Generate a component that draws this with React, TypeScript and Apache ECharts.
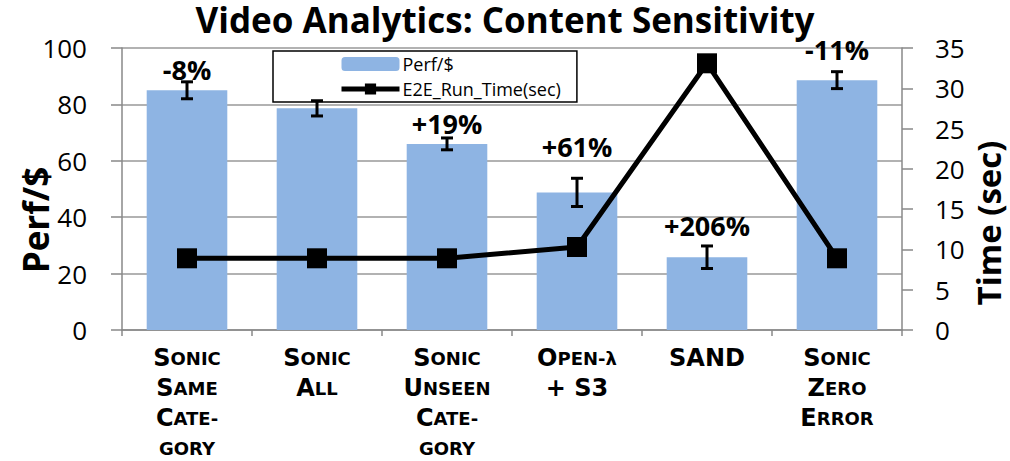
import React, { useEffect, useRef } from "react";
import * as echarts from "echarts";

const categories = [
  "Sonic\nSame\nCate-\ngory",
  "Sonic\nAll",
  "Sonic\nUnseen\nCate-\ngory",
  "Open-λ\n+ S3",
  "SAND",
  "Sonic\nZero\nError",
];
const perfPerDollar = [85, 78.6, 66, 48.8, 25.8, 88.6];
const perfError = [3, 2.7, 2.1, 5, 4, 3];
const changeLabels = ["-8%", "", "+19%", "+61%", "+206%", "-11%"];
// Perf/$ level at which each change label sits
const changeLabelLevel = [92.2, 0, 73.4, 65.2, 37.2, 99.3];
const runTimeSec = [8.9, 8.9, 8.9, 10.3, 33.1, 8.9];

const FONT = "'Open Sans', sans-serif";
const CAPS_FONT = "'DejaVu Sans', sans-serif";

function smallCaps(label: string): string {
  return label
    .split("\n")
    .map((line) => {
      let out = "";
      let cur: string | null = null;
      let buf = "";
      for (const ch of line) {
        let style: string;
        let c = ch;
        if (/[a-z]/.test(ch)) {
          style = "s";
          c = ch.toUpperCase();
        } else if (ch === "-" || ch === "λ") {
          style = "s";
        } else {
          style = "b";
        }
        if (style !== cur) {
          if (buf) out += `{${cur}|${buf}}`;
          buf = "";
          cur = style;
        }
        buf += c;
      }
      if (buf) out += `{${cur}|${buf}}`;
      return out;
    })
    .join("\n");
}

export default function App() {
  const ref = useRef<HTMLDivElement>(null);
  useEffect(() => {
    if (!ref.current) return;
    document.body.style.margin = "0";
    const chart = echarts.init(ref.current, null, { renderer: "svg" });
    const option: any = {
      animation: false,
      backgroundColor: "#fff",
      title: {
        text: "Video Analytics: Content Sensitivity",
        left: "center",
        top: 0,
        padding: 0,
        textStyle: { fontFamily: FONT, fontWeight: "bold", fontSize: 35, lineHeight: 38, color: "#000" },
      },
      legend: {
        data: [
          { name: "Perf/$" },
          { name: "E2E_Run_Time(sec)", lineStyle: { width: 5, color: "#000" } },
        ],
        orient: "vertical",
        left: 273,
        top: 51,
        itemGap: 7,
        itemWidth: 58,
        itemHeight: 14,
        padding: [4, 16, 4, 66],
        borderColor: "#000",
        borderWidth: 1.5,
        textStyle: { fontFamily: FONT, fontSize: 18, color: "#000", padding: [0, 0, 0, -2] },
      },
      grid: { left: 122, right: 108, top: 48, bottom: 131, containLabel: false },
      xAxis: {
        type: "category",
        data: categories,
        axisLine: { lineStyle: { color: "#888", width: 1.5 } },
        axisTick: { show: true, length: 6, lineStyle: { color: "#888", width: 1.5 } },
        axisLabel: {
          interval: 0,
          margin: 13,
          formatter: (v: string) => smallCaps(v),
          rich: {
            b: { fontFamily: CAPS_FONT, fontWeight: "bold", fontSize: 24, lineHeight: 30, color: "#000" },
            s: { fontFamily: CAPS_FONT, fontWeight: "bold", fontSize: 18, lineHeight: 30, color: "#000" },
          },
        },
      },
      yAxis: [
        {
          type: "value",
          min: 0,
          max: 100,
          interval: 20,
          position: "left",
          axisLine: { show: true, lineStyle: { color: "#888", width: 1.5 } },
          axisTick: { show: true, length: 11, lineStyle: { color: "#888", width: 1.5 } },
          splitLine: { show: true, lineStyle: { color: "#999", width: 1.5 } },
          axisLabel: { margin: 35, fontFamily: FONT, fontSize: 26, color: "#000" },
        },
        {
          type: "value",
          min: 0,
          max: 35,
          interval: 5,
          position: "right",
          axisLine: { show: true, lineStyle: { color: "#888", width: 1.5 } },
          axisTick: { show: true, length: 11, lineStyle: { color: "#888", width: 1.5 } },
          splitLine: { show: false },
          axisLabel: { margin: 33, fontFamily: FONT, fontSize: 26, color: "#000" },
        },
      ],
      graphic: [
        {
          type: "text",
          x: 35,
          y: 220,
          rotation: Math.PI / 2,
          style: {
            text: "Perf/$",
            fontFamily: FONT,
            fontWeight: "bold",
            fontSize: 35,
            lineHeight: 35,
            fill: "#000",
            textAlign: "center",
            textVerticalAlign: "middle",
          },
        },
        {
          type: "text",
          x: 988,
          y: 223,
          rotation: Math.PI / 2,
          style: {
            text: "Time (sec)",
            fontFamily: FONT,
            fontWeight: "bold",
            fontSize: 33,
            lineHeight: 33,
            fill: "#000",
            textAlign: "center",
            textVerticalAlign: "middle",
          },
        },
      ],
      series: [
        {
          name: "Perf/$",
          type: "bar",
          yAxisIndex: 0,
          data: perfPerDollar,
          barWidth: "62%",
          itemStyle: { color: "#8EB4E3" },
          z: 2,
        },
        {
          name: "errors",
          type: "custom",
          yAxisIndex: 0,
          z: 3,
          data: perfPerDollar.map((v, i) => [i, v, perfError[i], changeLabelLevel[i]]),
          renderItem: (params: any, api: any) => {
            const i = api.value(0);
            const v = api.value(1);
            const e = api.value(2);
            const top = api.coord([i, v + e]);
            const bot = api.coord([i, v - e]);
            const cap = 6;
            const st = { stroke: "#000", lineWidth: 3 };
            const children: any[] = [
              { type: "line", shape: { x1: top[0], y1: top[1], x2: bot[0], y2: bot[1] }, style: st },
              { type: "line", shape: { x1: top[0] - cap, y1: top[1], x2: top[0] + cap, y2: top[1] }, style: st },
              { type: "line", shape: { x1: bot[0] - cap, y1: bot[1], x2: bot[0] + cap, y2: bot[1] }, style: st },
            ];
            const lab = changeLabels[params.dataIndex];
            if (lab) {
              const pos = api.coord([i, api.value(3)]);
              children.push({
                type: "text",
                x: pos[0],
                y: pos[1],
                style: {
                  text: lab,
                  fontFamily: FONT,
                  fontWeight: "bold",
                  fontSize: 27,
                  fill: "#000",
                  textAlign: "center",
                  textVerticalAlign: "middle",
                },
              });
            }
            return { type: "group", children };
          },
        },
        {
          name: "E2E_Run_Time(sec)",
          type: "line",
          yAxisIndex: 1,
          data: runTimeSec,
          symbol: "rect",
          symbolSize: 20,
          lineStyle: { color: "#000", width: 5 },
          itemStyle: { color: "#000" },
          z: 4,
        },
      ],
    };
    chart.setOption(option);
    return () => chart.dispose();
  }, []);
  return <div ref={ref} style={{ width: 1010, height: 461 }} />;
}
